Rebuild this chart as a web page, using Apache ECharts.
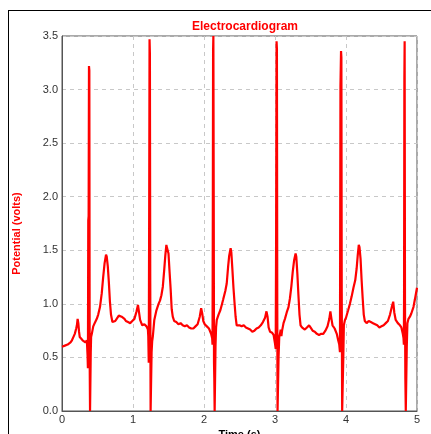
<!DOCTYPE html>
<html>
<head>
<meta charset="utf-8">
<title>Electrocardiogram</title>
<script src="https://cdn.jsdelivr.net/npm/echarts@6/dist/echarts.min.js"></script>
<style>
  html, body {
    margin: 0;
    padding: 0;
    background: #fff;
    overflow: hidden;
  }
  #frame {
    position: absolute;
    left: 8px;
    top: 10px;
    width: 460px;
    height: 460px;
    border-left: 1px solid #000;
    border-top: 1px solid #000;
  }
  #chart {
    position: absolute;
    left: 0;
    top: 0;
    width: 431px;
    height: 434px;
  }
</style>
</head>
<body>
<div id="frame"></div>
<div id="chart"></div>
<script>
// ECG trace, [time (s), potential (V)], one array per beat
const lead = [
  [0.00, 0.60], [0.02, 0.59], [0.04, 0.61], [0.06, 0.60], [0.08, 0.62], [0.10, 0.62],
  [0.12, 0.64], [0.14, 0.66], [0.16, 0.69], [0.18, 0.72], [0.20, 0.77], [0.21, 0.80],
  [0.22, 0.86], [0.23, 0.82], [0.24, 0.74], [0.25, 0.69], [0.27, 0.68], [0.29, 0.66],
  [0.31, 0.67], [0.33, 0.64], [0.35, 0.66], [0.36, 0.52]
];
const beat1 = [
  [0.365, 0.40], [0.370, 1.78], [0.375, 1.82], [0.380, 3.22], [0.385, 3.18], [0.390, 0.45],
  [0.395, 0.00], [0.400, 0.00], [0.405, 0.55], [0.410, 0.69],
  [0.42, 0.72], [0.44, 0.79], [0.46, 0.82], [0.49, 0.86], [0.51, 0.90], [0.535, 0.97],
  [0.56, 1.10], [0.58, 1.25], [0.60, 1.38], [0.62, 1.46], [0.63, 1.44], [0.645, 1.35],
  [0.66, 1.20], [0.675, 1.02], [0.69, 0.90], [0.71, 0.83], [0.73, 0.82], [0.75, 0.84],
  [0.77, 0.86], [0.80, 0.89], [0.82, 0.90], [0.84, 0.88], [0.86, 0.89], [0.88, 0.86],
  [0.90, 0.84], [0.93, 0.83], [0.96, 0.82], [0.99, 0.84], [1.02, 0.86], [1.05, 0.93],
  [1.07, 0.99], [1.085, 0.92], [1.10, 0.85], [1.13, 0.80], [1.16, 0.81], [1.19, 0.79],
  [1.21, 0.76]
];
const beat2 = [
  [1.215, 0.70], [1.222, 0.45], [1.228, 1.90], [1.233, 3.47], [1.238, 3.34], [1.243, 1.20],
  [1.248, 0.00], [1.255, 0.00], [1.262, 0.55], [1.27, 0.65],
  [1.28, 0.70], [1.30, 0.85], [1.33, 0.94], [1.36, 1.00], [1.38, 1.03], [1.40, 1.08],
  [1.42, 1.16], [1.44, 1.32], [1.455, 1.45], [1.47, 1.55], [1.48, 1.52], [1.50, 1.47],
  [1.515, 1.30], [1.53, 1.14], [1.545, 0.95], [1.56, 0.88], [1.58, 0.84], [1.61, 0.83],
  [1.64, 0.81], [1.67, 0.82], [1.70, 0.80], [1.73, 0.79], [1.76, 0.80], [1.79, 0.78],
  [1.82, 0.77], [1.85, 0.77], [1.88, 0.79], [1.91, 0.81], [1.94, 0.88], [1.96, 0.96],
  [1.975, 0.91], [1.99, 0.84], [2.01, 0.81], [2.04, 0.79], [2.07, 0.77], [2.10, 0.72],
  [2.115, 0.68]
];
const beat3 = [
  [2.120, 0.62], [2.124, 1.80], [2.128, 3.36], [2.132, 3.50], [2.137, 2.00], [2.141, 0.45],
  [2.145, 0.30], [2.150, 0.00], [2.155, 0.00], [2.162, 0.60], [2.17, 0.78],
  [2.18, 0.85], [2.205, 0.90], [2.23, 0.94], [2.25, 0.99], [2.27, 1.04], [2.30, 1.12],
  [2.32, 1.19], [2.34, 1.35], [2.355, 1.45], [2.375, 1.52], [2.385, 1.48], [2.40, 1.32],
  [2.415, 1.15], [2.43, 1.01], [2.445, 0.88], [2.46, 0.80], [2.48, 0.79], [2.50, 0.80],
  [2.53, 0.79], [2.56, 0.80], [2.59, 0.78], [2.62, 0.77], [2.65, 0.76], [2.68, 0.74],
  [2.71, 0.75], [2.74, 0.77], [2.77, 0.78], [2.80, 0.80], [2.83, 0.83], [2.86, 0.87],
  [2.88, 0.93], [2.895, 0.88], [2.91, 0.78], [2.93, 0.74], [2.96, 0.73], [2.98, 0.71],
  [3.00, 0.63]
];
const beat4 = [
  [3.010, 0.58], [3.016, 1.70], [3.022, 3.45], [3.027, 3.38], [3.032, 1.00], [3.036, 0.00],
  [3.045, 0.00], [3.050, 0.50], [3.06, 0.69], [3.07, 0.72], [3.08, 0.76], [3.09, 0.70],
  [3.10, 0.75], [3.12, 0.82], [3.14, 0.86], [3.165, 0.92], [3.19, 0.97], [3.21, 1.05],
  [3.23, 1.16], [3.25, 1.30], [3.27, 1.41], [3.29, 1.47], [3.30, 1.44], [3.315, 1.28],
  [3.33, 1.08], [3.345, 0.90], [3.36, 0.80], [3.38, 0.78], [3.40, 0.77], [3.42, 0.76],
  [3.45, 0.78], [3.48, 0.80], [3.50, 0.78], [3.53, 0.75], [3.56, 0.74], [3.59, 0.72],
  [3.62, 0.71], [3.65, 0.72], [3.68, 0.72], [3.71, 0.75], [3.74, 0.79], [3.765, 0.86],
  [3.78, 0.93], [3.795, 0.86], [3.81, 0.80], [3.84, 0.77], [3.87, 0.72], [3.89, 0.66],
  [3.905, 0.62]
];
const beat5 = [
  [3.915, 0.55], [3.922, 3.03], [3.930, 3.36], [3.935, 3.30], [3.940, 1.10], [3.946, 0.00],
  [3.955, 0.00], [3.962, 0.50], [3.97, 0.80], [3.985, 0.85],
  [4.00, 0.87], [4.03, 0.94], [4.055, 1.00], [4.08, 1.07], [4.105, 1.15], [4.13, 1.22],
  [4.15, 1.33], [4.165, 1.45], [4.18, 1.55], [4.19, 1.53], [4.205, 1.42], [4.22, 1.22],
  [4.235, 1.05], [4.25, 0.90], [4.265, 0.84], [4.29, 0.82], [4.32, 0.84], [4.35, 0.83],
  [4.38, 0.82], [4.41, 0.81], [4.44, 0.80], [4.47, 0.78], [4.50, 0.79], [4.53, 0.80],
  [4.56, 0.82], [4.59, 0.84], [4.62, 0.90], [4.645, 0.97], [4.665, 1.02], [4.68, 0.92],
  [4.70, 0.85], [4.73, 0.82], [4.76, 0.80], [4.78, 0.78], [4.80, 0.72], [4.81, 0.68]
];
const beat6 = [
  [4.815, 0.62], [4.818, 1.10], [4.822, 3.11], [4.826, 3.45], [4.831, 1.00], [4.836, 0.30],
  [4.842, 0.00], [4.850, 0.00], [4.856, 0.60], [4.865, 0.82],
  [4.88, 0.86], [4.90, 0.88], [4.92, 0.91], [4.95, 0.97], [4.97, 1.04], [5.00, 1.15]
];

const ecg = [].concat(lead, beat1, beat2, beat3, beat4, beat5, beat6);

const timeTicks = [0, 1, 2, 3, 4, 5];
const potentialTicks = [0, 0.5, 1, 1.5, 2, 2.5, 3, 3.5];

const chart = echarts.init(document.getElementById("chart"), null, { renderer: "canvas" });

const option = {
  animation: false,
  backgroundColor: "transparent",
  title: {
    text: "Electrocardiogram",
    left: 240,
    top: 16,
    textAlign: "center",
    textStyle: {
      color: "#ff0000",
      fontFamily: "Liberation Sans, Arial, sans-serif",
      fontSize: 12,
      fontWeight: "bold",
    },
  },
  grid: {
    left: 62,
    top: 36,
    width: 355,
    height: 375,
    containLabel: false,
    outerBoundsMode: "none",
    show: true,
    borderColor: "#555",
    borderWidth: 1,
    backgroundColor: "#fff",
  },
  xAxis: {
    type: "value",
    min: timeTicks[0],
    max: timeTicks[timeTicks.length - 1],
    interval: 1,
    name: "Time (s)",
    nameLocation: "middle",
    nameGap: 14,
    nameTextStyle: {
      color: "#000",
      fontFamily: "Liberation Sans, Arial, sans-serif",
      fontSize: 11,
      fontWeight: "bold",
    },
    axisLine: { lineStyle: { color: "#555", width: 1 } },
    axisTick: { show: false },
    axisLabel: {
      color: "#333",
      fontFamily: "Liberation Sans, Arial, sans-serif",
      fontSize: 11,
      margin: 3,
    },
    splitLine: {
      show: true,
      lineStyle: { color: "#c8c8c8", type: [4, 4], width: 1 },
    },
  },
  yAxis: {
    type: "value",
    min: potentialTicks[0],
    max: potentialTicks[potentialTicks.length - 1],
    interval: 0.5,
    name: "Potential (volts)",
    nameLocation: "middle",
    nameGap: 40,
    nameTextStyle: {
      color: "#ff0000",
      fontFamily: "Liberation Sans, Arial, sans-serif",
      fontSize: 11,
      fontWeight: "bold",
      padding: [0, 20, 0, 0],
    },
    axisLine: { show: true, lineStyle: { color: "#555", width: 1 } },
    axisTick: { show: false },
    axisLabel: {
      color: "#333",
      fontFamily: "Liberation Sans, Arial, sans-serif",
      fontSize: 11,
      margin: 4,
      formatter: (v) => v.toFixed(1),
    },
    splitLine: {
      show: true,
      lineStyle: { color: "#c8c8c8", type: [4, 4], width: 1 },
    },
  },
  series: [
    {
      type: "line",
      data: ecg,
      showSymbol: false,
      clip: true,
      lineStyle: { color: "#ff0000", width: 2.2 },
    },
  ],
};

chart.setOption(option);
</script>
</body>
</html>
